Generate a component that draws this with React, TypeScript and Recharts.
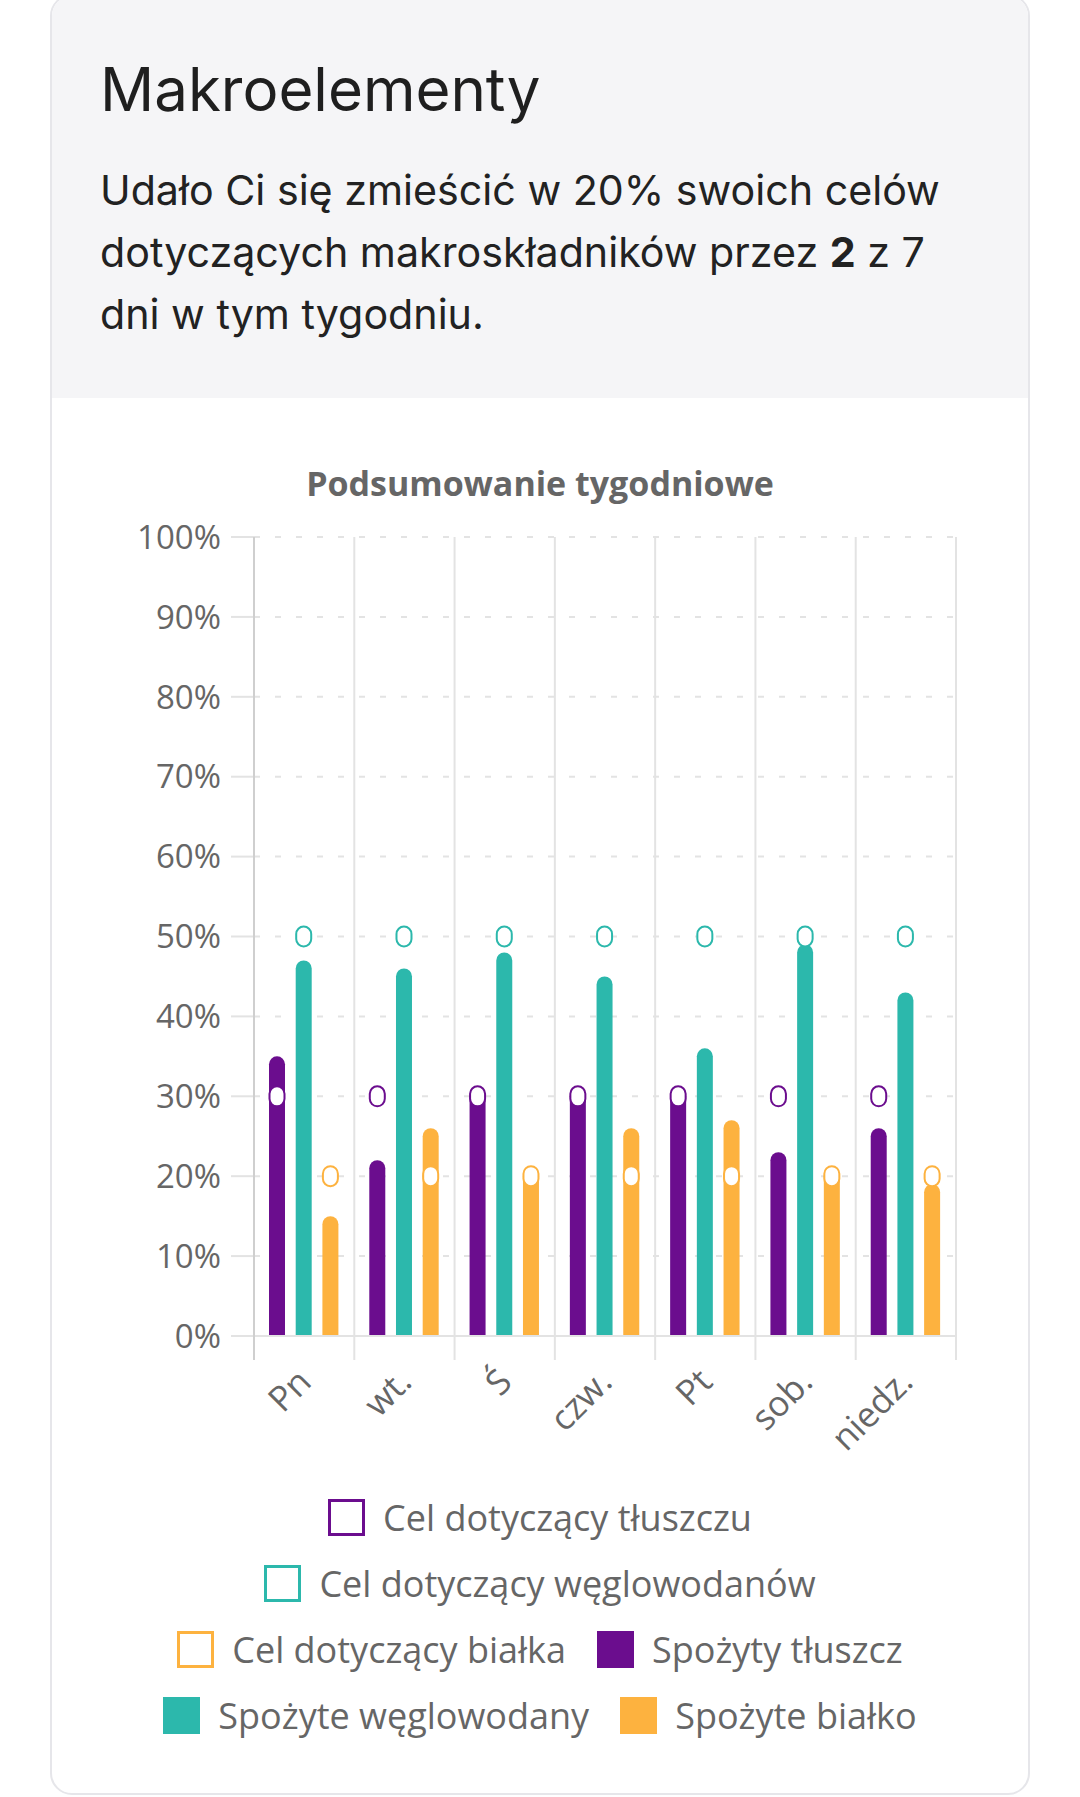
import React from 'react';
import { ComposedChart, Bar, XAxis, YAxis, CartesianGrid } from 'recharts';

const days = ['Pn', 'wt.', 'Ś', 'czw.', 'Pt', 'sob.', 'niedz.'];
const fatEaten = [35, 22, 31, 31, 31, 23, 26];
const carbsEaten = [47, 46, 48, 45, 36, 49, 43];
const proteinEaten = [15, 26, 21, 26, 27, 21, 19];
const fatGoal = [30, 30, 30, 30, 30, 30, 30];
const carbsGoal = [50, 50, 50, 50, 50, 50, 50];
const proteinGoal = [20, 20, 20, 20, 20, 20, 20];
const yTicks = [0, 10, 20, 30, 40, 50, 60, 70, 80, 90, 100];

const PURPLE = '#6B0D8E';
const TEAL = '#2CB8AC';
const ORANGE = '#FDB23F';

const legendItems = [
  { label: 'Cel dotyczący tłuszczu', color: PURPLE, outline: true },
  { label: 'Cel dotyczący węglowodanów', color: TEAL, outline: true },
  { label: 'Cel dotyczący białka', color: ORANGE, outline: true },
  { label: 'Spożyty tłuszcz', color: PURPLE, outline: false },
  { label: 'Spożyte węglowodany', color: TEAL, outline: false },
  { label: 'Spożyte białko', color: ORANGE, outline: false },
];

const data = days.map((d, i) => ({
  day: d,
  fat: fatEaten[i],
  carbs: carbsEaten[i],
  protein: proteinEaten[i],
  fatGoal: fatGoal[i],
  carbsGoal: carbsGoal[i],
  proteinGoal: proteinGoal[i],
}));

const CHART_W = 1080;
const MARGIN = { top: 37, right: 124, bottom: 0, left: 0 };
const Y_AXIS_W = 254;
const X_AXIS_H = 140;
const PLOT_H = 799;
const CHART_H = MARGIN.top + PLOT_H + X_AXIS_H;
const PLOT_W = CHART_W - MARGIN.left - MARGIN.right - Y_AXIS_W;

const CHART_FONT = '"Open Sans", sans-serif';
const GRID = '#e3e3e3';
const AXIS = '#cfcfcf';

const DayTick = (props: any) => {
  const { x, y, payload, index } = props;
  const bw = PLOT_W / days.length;
  const lx = x - bw / 2;
  const tx = x + 9;
  const ty = y + 48;
  return (
    <g>
      <line x1={lx} x2={lx} y1={y - PLOT_H} y2={y + 24} stroke={index === 0 ? AXIS : GRID} strokeWidth={2} />
      {index === days.length - 1 && (
        <line x1={x + bw / 2} x2={x + bw / 2} y1={y - PLOT_H} y2={y + 24} stroke={GRID} strokeWidth={2} />
      )}
      <text
        x={tx}
        y={ty}
        textAnchor="end"
        transform={`rotate(-45, ${tx}, ${ty})`}
        fill="#666"
        fontSize={35}
        fontFamily={CHART_FONT}
      >
        {payload.value}
      </text>
    </g>
  );
};

const makeGoalShape = (color: string) => (props: any) => {
  const { x, y, width } = props;
  if (x == null || y == null) return <g />;
  const cx = x + width / 2;
  return (
    <rect x={cx - 7.5} y={y - 10} width={15} height={20} rx={7.5} ry={7.5} fill="#fff" stroke={color} strokeWidth={2} />
  );
};

export default function App() {
  return (
    <div
      style={{
        position: 'absolute',
        left: 0,
        top: 0,
        width: 1080,
        height: 1797,
        overflow: 'hidden',
        background: '#fff',
        fontFamily: 'Inter, sans-serif',
      }}
    >
      <div
        style={{
          position: 'absolute',
          left: 50,
          top: -6,
          width: 980,
          height: 1801,
          border: '2px solid #e6e6ea',
          borderRadius: 22,
          boxSizing: 'border-box',
          overflow: 'hidden',
          background: '#fff',
        }}
      >
        <div style={{ position: 'absolute', left: 0, top: 0, width: '100%', height: 402, background: '#f5f5f7' }} />
      </div>

      <div
        style={{
          position: 'absolute',
          left: 100,
          top: 53,
          fontSize: 60,
          lineHeight: '72px',
          color: '#1f1f1f',
          whiteSpace: 'nowrap',
        }}
      >
        Makroelementy
      </div>
      <div
        style={{
          position: 'absolute',
          left: 100,
          top: 159,
          fontSize: 41.2,
          lineHeight: '62px',
          color: '#222',
          whiteSpace: 'nowrap',
        }}
      >
        Udało Ci się zmieścić w 20% swoich celów
        <br />
        dotyczących makroskładników przez <b>2</b> z 7
        <br />
        dni w tym tygodniu.
      </div>

      <div
        style={{
          position: 'absolute',
          left: 0,
          top: 463,
          width: 1080,
          textAlign: 'center',
          fontFamily: CHART_FONT,
          fontWeight: 700,
          fontSize: 34,
          lineHeight: '40px',
          color: '#666',
        }}
      >
        Podsumowanie tygodniowe
      </div>

      <div style={{ position: 'absolute', left: 0, top: 500 }}>
        <ComposedChart width={CHART_W} height={CHART_H} data={data} margin={MARGIN} barSize={16} barGap={10.7}>
          <CartesianGrid vertical={false} stroke={GRID} strokeWidth={2} strokeDasharray="6 15" />
          <XAxis
            dataKey="day"
            interval={0}
            height={X_AXIS_H}
            tickSize={0}
            tickMargin={0}
            tickLine={false}
            axisLine={{ stroke: GRID, strokeWidth: 2 }}
            tick={<DayTick />}
          />
          <XAxis dataKey="day" xAxisId="g" hide />
          <YAxis
            width={Y_AXIS_W}
            domain={[0, 100]}
            ticks={yTicks}
            interval={0}
            tickSize={23}
            tickMargin={10}
            tickLine={{ stroke: GRID, strokeWidth: 2 }}
            axisLine={{ stroke: AXIS, strokeWidth: 2 }}
            tickFormatter={(v: number) => `${v}%`}
            tick={{ fill: '#666', fontSize: 33, fontFamily: CHART_FONT }}
          />
          <Bar dataKey="fat" fill={PURPLE} radius={[8, 8, 0, 0]} isAnimationActive={false} />
          <Bar dataKey="carbs" fill={TEAL} radius={[8, 8, 0, 0]} isAnimationActive={false} />
          <Bar dataKey="protein" fill={ORANGE} radius={[8, 8, 0, 0]} isAnimationActive={false} />
          <Bar dataKey="fatGoal" xAxisId="g" shape={makeGoalShape(PURPLE)} isAnimationActive={false} />
          <Bar dataKey="carbsGoal" xAxisId="g" shape={makeGoalShape(TEAL)} isAnimationActive={false} />
          <Bar dataKey="proteinGoal" xAxisId="g" shape={makeGoalShape(ORANGE)} isAnimationActive={false} />
        </ComposedChart>
      </div>

      <div
        style={{
          position: 'absolute',
          left: 120,
          top: 1484,
          width: 840,
          display: 'flex',
          flexWrap: 'wrap',
          justifyContent: 'center',
          columnGap: 31,
          fontFamily: CHART_FONT,
        }}
      >
        {legendItems.map((it) => (
          <div key={it.label} style={{ display: 'flex', alignItems: 'center', height: 66 }}>
            <div
              style={{
                width: 37,
                height: 37,
                boxSizing: 'border-box',
                border: it.outline ? `3px solid ${it.color}` : 'none',
                background: it.outline ? '#fff' : it.color,
                marginRight: 18,
              }}
            />
            <span style={{ fontSize: 36, color: '#666', whiteSpace: 'nowrap' }}>{it.label}</span>
          </div>
        ))}
      </div>
    </div>
  );
}
